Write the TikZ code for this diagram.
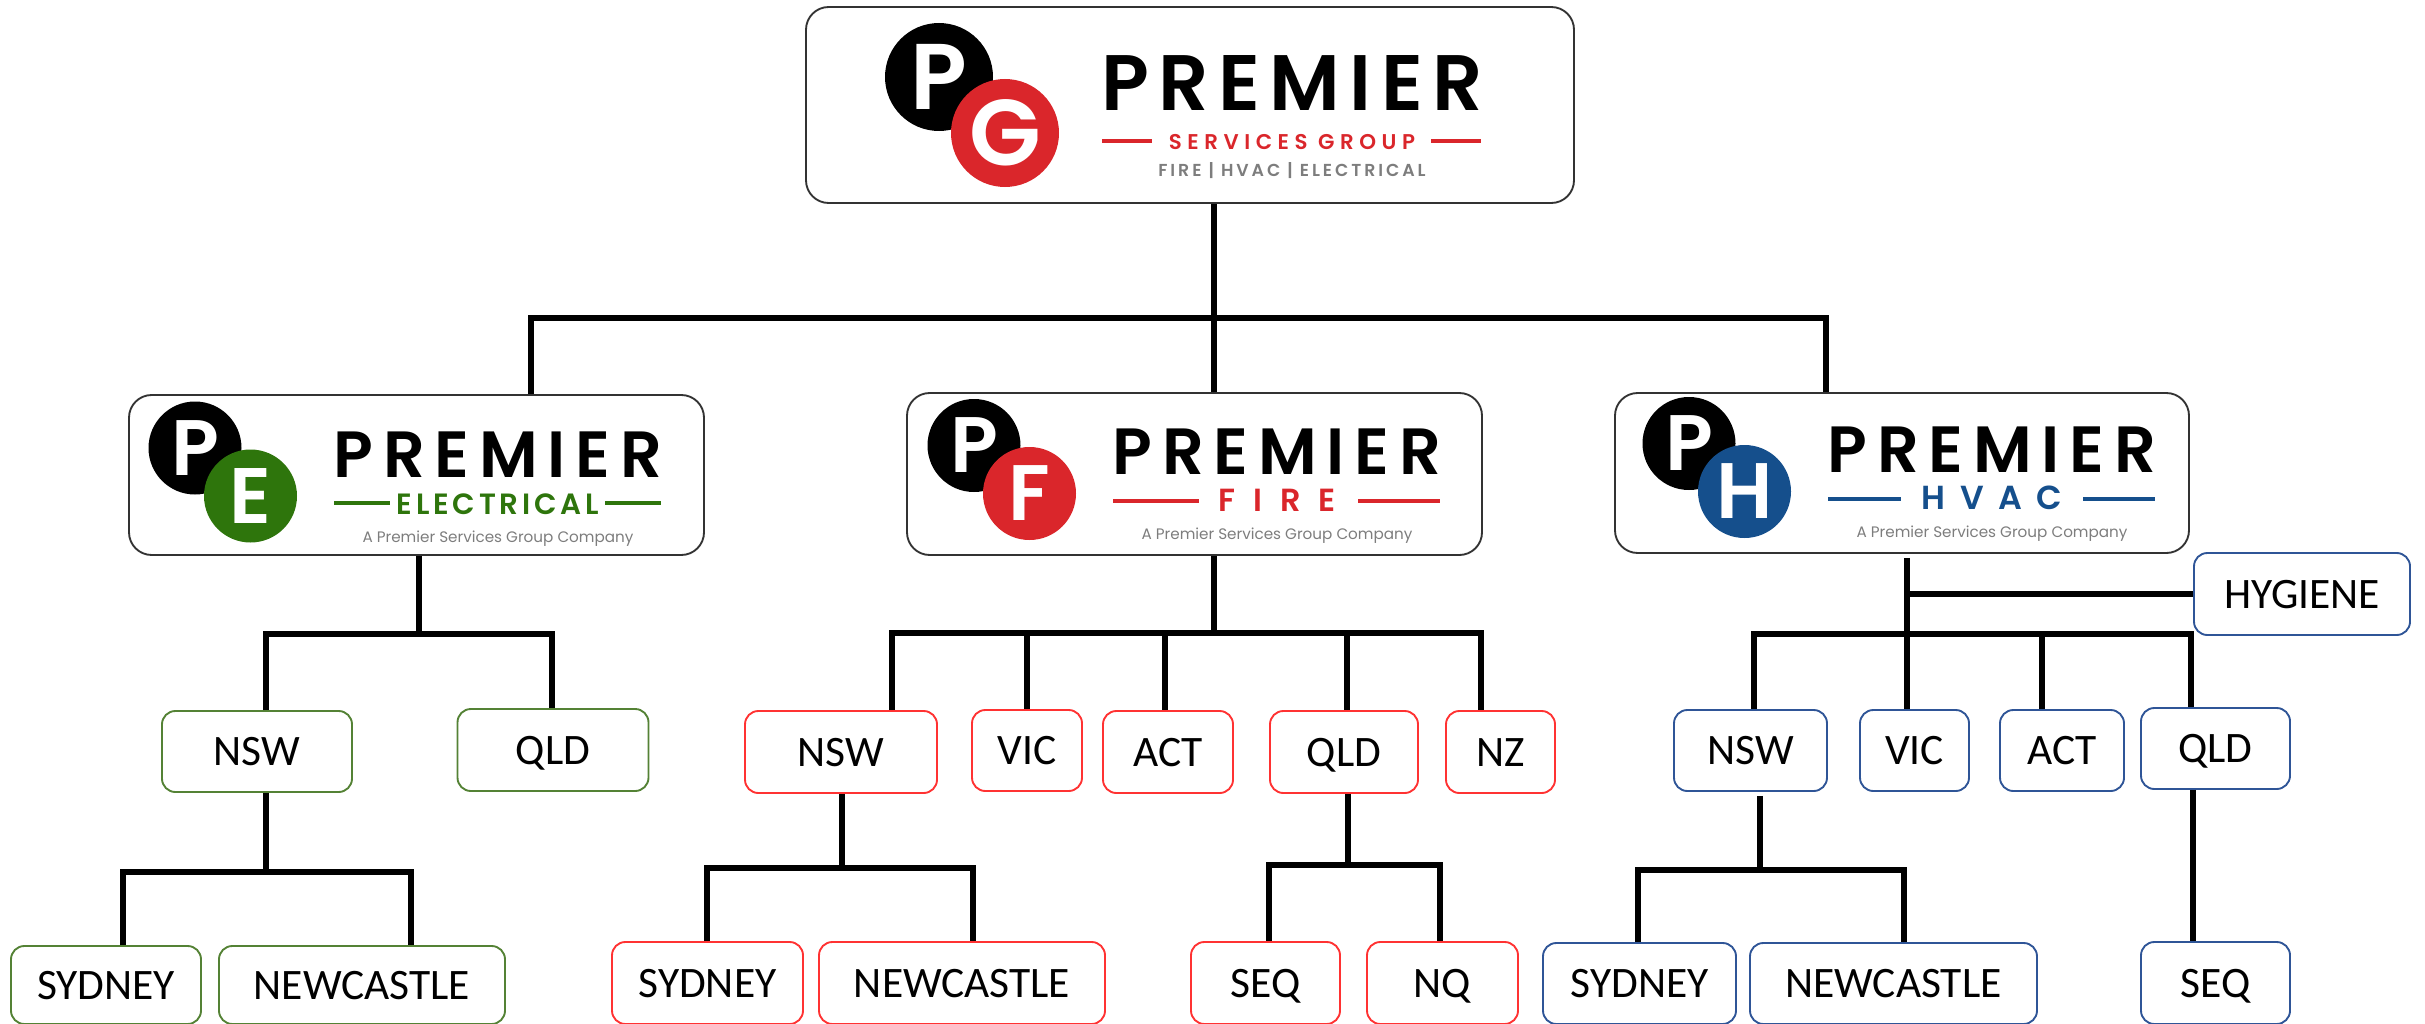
\documentclass[tikz,border=0pt]{standalone}
\usepackage{fontspec}
\setmainfont{Carlito}
\newfontfamily\logofont{Poppins SemiBold}
\newfontfamily\tagfont{Poppins}
\newcommand{\logosize}[1]{\logofont\fontsize{#1}{#1}\selectfont}

\definecolor{pgred}{RGB}{218,38,43}
\definecolor{pegreen}{RGB}{46,117,12}
\definecolor{phblue}{RGB}{21,79,140}
\definecolor{taggray}{RGB}{125,125,125}
\definecolor{edgegreen}{RGB}{84,130,53}
\definecolor{edgered}{RGB}{255,50,50}
\definecolor{edgeblue}{RGB}{47,85,151}

\tikzset{
  conn/.style={line width=4.5pt,black},
  boxwh/.style 2 args={minimum width=#1*0.75pt,minimum height=#2*0.75pt},
  logobox/.style={draw=black!80,line width=1.4pt,rounded corners=17pt,inner sep=0pt},
  orgbox/.style={draw=#1,line width=1.4pt,rounded corners=10pt,inner sep=0pt,fill=white,
    font=\fontsize{32.6}{34}\selectfont,text height=21pt,text depth=0pt},
  logodisc/.style={circle,fill=#1,text=white,inner sep=0pt,text depth=0pt},
  logotext/.style={anchor=base,inner sep=0pt},
}

\begin{document}
\begin{tikzpicture}[x=0.75pt,y=0.75pt,yscale=-1,xscale=1]
\useasboundingbox (0,0) rectangle (2425,1024);

% Logo boxes
\node (pg) [logobox,boxwh={768}{196}] at (1190,105) {};
\node (elec) [logobox,boxwh={575}{160}] at (416.5,475) {};
\node (fire) [logobox,boxwh={575}{162}] at (1194.5,474) {};
\node (hvac) [logobox,boxwh={574}{160}] at (1902,473) {};

% Group logo
\node (pgp) [logodisc=black,boxwh={108}{108},font=\logosize{70}] at (939,77) {P};
\node (pgg) [logodisc=pgred,boxwh={108}{108},font=\logosize{70}] at (1005,133) {G};
\node (pgname) [logotext,font=\logosize{59}\addfontfeature{LetterSpace=12}] at (1292,111) {PREMIER};
\node (pgsub) [logotext,text=pgred,font=\logosize{16}\addfontfeature{LetterSpace=26}] at (1292,149) {SERVICES GROUP};
\node (pgtag) [logotext,text=taggray,font=\logosize{13}\addfontfeature{LetterSpace=17}] at (1292,176) {FIRE | HVAC | ELECTRICAL};
\draw [pgred,line width=3.6pt] (1102,141) -- (1152,141) (1431,141) -- (1481,141);

% Company logos
\foreach \nm/\dx/\dy/\ltr/\col/\sub/\fs/\ls/\la/\lb in {
  elec/0/0/E/pegreen/ELECTRICAL/22/13/390/605,
  fire/779/-2.5/F/pgred/FIRE/24/56/420/579,
  hvac/1494/-4.5/H/phblue/HVAC/25/43/407/589}{
  \begin{scope}[shift={(\dx,\dy)}]
    \node (\nm p) [logodisc=black,boxwh={93}{93},font=\logosize{59}] at (195,448) {P};
    \node (\nm l) [logodisc=\col,boxwh={93}{93},font=\logosize{59}] at (250.5,496) {\ltr};
    \node (\nm name) [logotext,font=\logosize{49}\addfontfeature{LetterSpace=15}] at (498,477) {PREMIER};
    \node (\nm sub) [logotext,text=\col,font=\logosize{\fs}\addfontfeature{LetterSpace=\ls}] at (498,514) {\sub};
    \node (\nm tag) [logotext,text=taggray,font=\tagfont\fontsize{11.4}{12}\selectfont] at (498,542) {A Premier Services Group Company};
    \draw [\col,line width=3pt] (334,503) -- (\la,503) (\lb,503) -- (661,503);
  \end{scope}
}

% Electrical boxes
\node (elecnsw) [orgbox=edgegreen,boxwh={190}{81}] at (257,751.5) {NSW};
\node (elecqld) [orgbox=edgegreen,boxwh={191}{82}] at (553,750) {QLD};
\node (elecsyd) [orgbox=edgegreen,boxwh={190}{78}] at (106,985) {SYDNEY};
\node (elecnew) [orgbox=edgegreen,boxwh={286}{78}] at (362,985) {NEWCASTLE};

% Fire boxes
\node (firensw) [orgbox=edgered,boxwh={192}{82}] at (841,752) {NSW};
\node (firevic) [orgbox=edgered,boxwh={110}{81}] at (1027,750.5) {VIC};
\node (fireact) [orgbox=edgered,boxwh={130}{82}] at (1168,752) {ACT};
\node (fireqld) [orgbox=edgered,boxwh={148}{82}] at (1344,752) {QLD};
\node (firenz) [orgbox=edgered,boxwh={109}{82}] at (1500.5,752) {NZ};
\node (firesyd) [orgbox=edgered,boxwh={191}{82}] at (707.5,983) {SYDNEY};
\node (firenew) [orgbox=edgered,boxwh={286}{82}] at (962,983) {NEWCASTLE};
\node (fireseq) [orgbox=edgered,boxwh={149}{82}] at (1265.5,983) {SEQ};
\node (firenq) [orgbox=edgered,boxwh={151}{82}] at (1442.5,983) {NQ};

% HVAC boxes
\node (hvachyg) [orgbox=edgeblue,boxwh={216}{82}] at (2302,594) {HYGIENE};
\node (hvacnsw) [orgbox=edgeblue,boxwh={153}{81}] at (1750.5,750.5) {NSW};
\node (hvacvic) [orgbox=edgeblue,boxwh={109}{81}] at (1914.5,750.5) {VIC};
\node (hvacact) [orgbox=edgeblue,boxwh={124}{81}] at (2062,750.5) {ACT};
\node (hvacqld) [orgbox=edgeblue,boxwh={149}{81}] at (2215.5,748.5) {QLD};
\node (hvacsyd) [orgbox=edgeblue,boxwh={193}{81}] at (1639.5,983.5) {SYDNEY};
\node (hvacnew) [orgbox=edgeblue,boxwh={287}{81}] at (1893.5,983.5) {NEWCASTLE};
\node (hvacseq) [orgbox=edgeblue,boxwh={149}{82}] at (2215.5,983) {SEQ};

% Bus coordinates
\coordinate (pgbus) at (1214,318);
\coordinate (pgbusl) at (531,318);
\coordinate (pgbusr) at (1825.5,318);
\coordinate (elecbus) at (419,634);
\coordinate (elecbusl) at (266,634);
\coordinate (elecbusr) at (552,634);
\coordinate (elecnswbus) at (266,872);
\coordinate (elecnswl) at (122.5,872);
\coordinate (elecnswr) at (411,872);
\coordinate (firebus) at (1214,633);
\coordinate (firebusl) at (892,633);
\coordinate (firebusr) at (1481,633);
\coordinate (firenswbus) at (842,868);
\coordinate (firenswl) at (706.5,868);
\coordinate (firenswr) at (973,868);
\coordinate (fireqldbus) at (1348,865);
\coordinate (fireqldl) at (1269,865);
\coordinate (fireqldr) at (1440,865);
\coordinate (hvacbus) at (1907,634);
\coordinate (hvacbusl) at (1754,634);
\coordinate (hvacbusr) at (2190.5,634);
\coordinate (hvacnswbus) at (1760,870);
\coordinate (hvacnswl) at (1637.5,870);
\coordinate (hvacnswr) at (1904,870);
\coordinate (hvacqldx) at (2192.5,800);

% Top level
\draw [conn] (pg.south -| pgbus) -- (fire.north -| pgbus);
\draw [conn] (elec.north -| pgbusl) |- (pgbusr) -- (hvac.north -| pgbusr);

% Electrical connectors
\draw [conn] (elec.south -| elecbus) -- (elecbus);
\draw [conn] (elecnsw.north -| elecbusl) |- (elecbusr) -- (elecqld.north -| elecbusr);
\draw [conn] (elecnsw.south -| elecnswbus) -- (elecnswbus);
\draw [conn] (elecsyd.north -| elecnswl) |- (elecnswr) -- (elecnew.north -| elecnswr);

% Fire connectors
\draw [conn] (fire.south -| firebus) -- (firebus);
\draw [conn] (firensw.north -| firebusl) |- (firebusr) -- (firenz.north -| firebusr);
\foreach \nm/\x in {firevic/1027,fireact/1165,fireqld/1347}
  \draw [conn] (\x,633) -- (\nm.north -| \x,633);
\draw [conn] (firensw.south -| firenswbus) -- (firenswbus);
\draw [conn] (firesyd.north -| firenswl) |- (firenswr) -- (firenew.north -| firenswr);
\draw [conn] (fireqld.south -| fireqldbus) -- (fireqldbus);
\draw [conn] (fireseq.north -| fireqldl) |- (fireqldr) -- (firenq.north -| fireqldr);

% HVAC connectors
\draw [conn,shorten <=3pt] (hvac.south -| hvacbus) -- (hvacnsw.north -| hvacbus);
\draw [conn] (hvachyg.west) -- (hvachyg.west -| hvacbus);
\draw [conn] (hvacnsw.north -| hvacbusl) |- (hvacbusr) -- (hvacqld.north -| hvacbusr);
\draw [conn] (2042,634) -- (hvacact.north -| 2042,634);
\draw [conn,shorten <=3pt] (hvacnsw.south -| hvacnswbus) -- (hvacnswbus);
\draw [conn] (hvacsyd.north -| hvacnswl) |- (hvacnswr) -- (hvacnew.north -| hvacnswr);
\draw [conn] (hvacqld.south -| hvacqldx) -- (hvacseq.north -| hvacqldx);

\end{tikzpicture}
\end{document}
